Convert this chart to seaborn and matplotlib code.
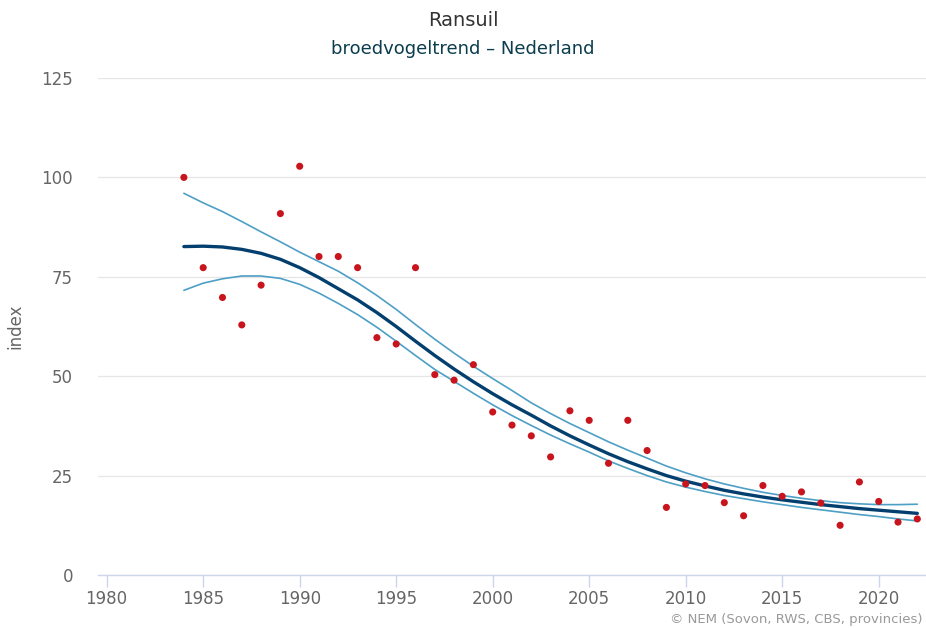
import numpy as np
import pandas as pd
import seaborn as sns
import matplotlib.pyplot as plt

# Ransuil - broedvogeltrend Nederland (index values)
years = list(range(1984, 2023))

index_values = [
    100.0, 77.3, 69.8, 62.9, 72.9, 90.9, 102.8, 80.1, 80.1, 77.3,
    59.7, 58.1, 77.3, 50.4, 49.0, 52.9, 41.0, 37.7, 35.0, 29.7,
    41.3, 38.9, 28.1, 38.9, 31.3, 17.0, 22.9, 22.5, 18.2, 14.9,
    22.5, 19.8, 20.9, 18.1, 12.5, 23.4, 18.5, 13.3, 14.1,
]

trend = [
    82.6, 82.7, 82.5, 81.9, 80.9, 79.4, 77.3, 74.8, 72.0, 69.2,
    66.0, 62.5, 58.8, 55.2, 51.8, 48.6, 45.6, 42.8, 40.2, 37.5,
    35.0, 32.7, 30.5, 28.5, 26.7, 25.0, 23.6, 22.4, 21.3, 20.4,
    19.6, 18.9, 18.3, 17.7, 17.2, 16.7, 16.3, 15.9, 15.5,
]

trend_upper = [
    96.0, 93.6, 91.4, 88.9, 86.3, 83.8, 81.2, 78.8, 76.4, 73.5,
    70.3, 66.8, 63.0, 59.3, 55.8, 52.5, 49.4, 46.4, 43.3, 40.6,
    38.1, 35.8, 33.5, 31.4, 29.4, 27.4, 25.7, 24.2, 22.9, 21.8,
    20.8, 20.0, 19.3, 18.7, 18.2, 17.9, 17.7, 17.7, 17.8,
]

trend_lower = [
    71.6, 73.4, 74.5, 75.2, 75.2, 74.6, 73.1, 70.9, 68.3, 65.5,
    62.3, 58.8, 55.2, 51.7, 48.7, 45.7, 42.8, 40.1, 37.6, 35.2,
    33.0, 30.9, 28.7, 26.8, 25.0, 23.4, 22.1, 21.0, 20.0, 19.2,
    18.4, 17.7, 17.0, 16.4, 15.8, 15.2, 14.7, 14.1, 13.6,
]

x_ticks = [1980, 1985, 1990, 1995, 2000, 2005, 2010, 2015, 2020]
y_ticks = [0, 25, 50, 75, 100, 125]

df = pd.DataFrame({
    'jaar': years,
    'index': index_values,
    'trend': trend,
    'upper': trend_upper,
    'lower': trend_lower,
})

sns.set_theme(style='white')
plt.rcParams['font.family'] = ['DejaVu Sans']

fig = plt.figure(figsize=(9.26, 6.28), dpi=100)
ax = fig.add_axes([98 / 926, 1 - 575 / 628, (926 - 98) / 926, (575 - 78) / 628])

# confidence lines and trend
sns.lineplot(data=df, x='jaar', y='upper', color='#4d9fc6', linewidth=1.2, ax=ax)
sns.lineplot(data=df, x='jaar', y='lower', color='#4d9fc6', linewidth=1.2, ax=ax)
sns.lineplot(data=df, x='jaar', y='trend', color='#033f6e', linewidth=2.4, ax=ax)

# yearly index points
sns.scatterplot(data=df, x='jaar', y='index', color='#c8141c', s=26,
                edgecolor='none', ax=ax, zorder=5)

ax.set_xlim(1979.55, 2022.45)
ax.set_ylim(0, 125)
ax.set_xticks(x_ticks)
ax.set_yticks(y_ticks)
ax.set_xticklabels([str(t) for t in x_ticks])
ax.set_yticklabels([str(t) for t in y_ticks])

ax.grid(axis='y', color='#e6e6e6', linewidth=0.9)
ax.grid(axis='x', visible=False)
ax.set_axisbelow(True)

for side in ['top', 'right', 'left']:
    ax.spines[side].set_visible(False)
ax.spines['bottom'].set_color('#ccd6eb')
ax.spines['bottom'].set_linewidth(1.0)
ax.spines['bottom'].set_zorder(0)

ax.tick_params(axis='x', colors='#ccd6eb', length=8.5, width=1.0,
               direction='out', labelcolor='#666666', labelsize=12, pad=2)
ax.tick_params(axis='y', length=0, labelcolor='#666666', labelsize=12, pad=18)
ax.tick_params(axis='x', bottom=True)

ax.set_xlabel('')
ax.set_ylabel('index', color='#666666', fontsize=12, labelpad=12)

fig.text(0.5, 1 - 21 / 628, 'Ransuil', ha='center', va='center',
         fontsize=14, color='#333333')
fig.text(0.5, 1 - 49 / 628, 'broedvogeltrend – Nederland', ha='center', va='center',
         fontsize=13, color='#0b3d4e')
fig.text(922 / 926, 1 - 619 / 628, '© NEM (Sovon, RWS, CBS, provincies)',
         ha='right', va='center', fontsize=9.5, color='#999999')

fig.savefig('out.png', dpi=100)
